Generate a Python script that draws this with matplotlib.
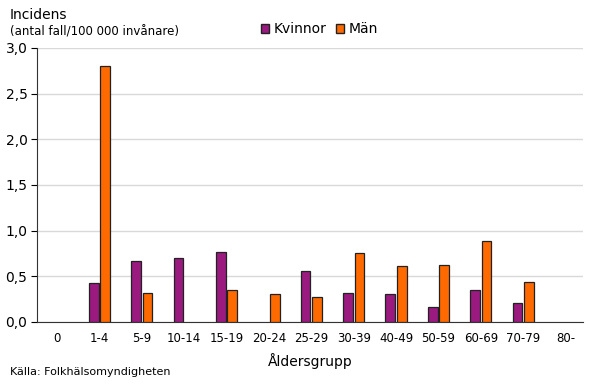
import numpy as np
import matplotlib.pyplot as plt
from matplotlib.patches import Patch

# data
age_groups = ["0", "1-4", "5-9", "10-14", "15-19", "20-24", "25-29",
              "30-39", "40-49", "50-59", "60-69", "70-79", "80-"]
kvinnor = [0, 0.43, 0.67, 0.70, 0.77, 0, 0.56, 0.32, 0.31, 0.16, 0.35, 0.21, 0]
man = [0, 2.80, 0.32, 0, 0.35, 0.31, 0.27, 0.75, 0.61, 0.62, 0.89, 0.44, 0]
yticks = [0, 0.5, 1.0, 1.5, 2.0, 2.5, 3.0]

purple = "#9A1A80"
orange = "#FF6A00"

plt.rcParams['font.family'] = ['DejaVu Sans']

fig = plt.figure(figsize=(5.9, 3.86), dpi=100)
ax = fig.add_axes([0.063, 0.166, 0.925, 0.71])

x = np.arange(len(age_groups))
w = 0.23
off = 0.135
for i in range(len(x)):
    if kvinnor[i] > 0:
        ax.bar(x[i] - off, kvinnor[i], w, color=purple, edgecolor="#222222", linewidth=0.9, zorder=3)
    if man[i] > 0:
        ax.bar(x[i] + off, man[i], w, color=orange, edgecolor="#222222", linewidth=0.9, zorder=3)

ax.set_xlim(-0.47, 12.41)
ax.set_ylim(0, 3.0)
ax.set_yticks(yticks)
ax.set_yticklabels([f"{v:.1f}".replace(".", ",") for v in yticks], fontsize=10)
ax.set_xticks(x)
ax.set_xticklabels(age_groups, fontsize=8.5)
ax.tick_params(axis='x', length=0, pad=7)
ax.tick_params(axis='y', length=4, direction='out', pad=3)
ax.yaxis.grid(True, color="#d9d9d9", linewidth=1, zorder=0)
for s in ["top", "right"]:
    ax.spines[s].set_visible(False)
ax.spines["left"].set_color("#333333")
ax.spines["bottom"].set_color("#333333")

ax.set_xlabel("Åldersgrupp", fontsize=10, labelpad=6)

fig.text(10 / 590, 1 - 15 / 386, "Incidens", fontsize=10, va="center")
fig.text(10 / 590, 1 - 32 / 386, "(antal fall/100 000 invånare)", fontsize=8.5, va="center")
fig.text(10 / 590, 1 - 372 / 386, "Källa: Folkhälsomyndigheten", fontsize=8, va="center")

handles = [Patch(facecolor=purple, edgecolor="#222222", label="Kvinnor"),
           Patch(facecolor=orange, edgecolor="#222222", label="Män")]
fig.legend(handles=handles, loc="center left", bbox_to_anchor=(254 / 590, 1 - 29 / 386),
           ncol=2, frameon=False, fontsize=10, handlelength=0.6, handleheight=0.6,
           handletextpad=0.3, columnspacing=0.7, borderpad=0)

fig.savefig("out.png", dpi=100)
